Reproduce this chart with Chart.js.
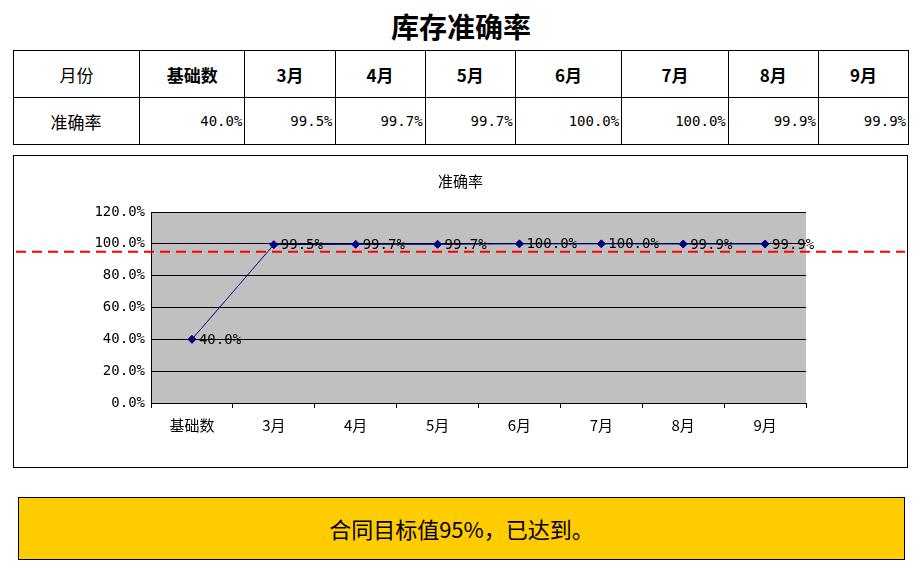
<!DOCTYPE html>
<html><head><meta charset="utf-8">
<script src="https://cdn.jsdelivr.net/npm/chart.js@4"></script>
<style>
body{margin:0;background:#fff;font-family:"Noto Sans CJK SC",sans-serif;}
#title{position:absolute;left:0;width:922px;top:6px;text-align:center;font-size:28px;font-weight:bold;}
table{position:absolute;left:13px;top:50px;width:896px;height:95px;border-collapse:collapse;font-size:17px;}
td{border:1px solid #000;text-align:center;}
tr.v td{text-align:right;font-family:"DejaVu Sans Mono",monospace;font-size:14px;padding-right:2px;}
tr.v td:first-child{text-align:center;font-family:"Noto Sans CJK SC";font-size:17px;}
tr.h td{font-weight:bold;}
tr.h td:first-child{font-weight:normal;}
#box{position:absolute;left:13px;top:155px;width:893px;height:311px;border:1px solid #000;}
#ctitle{position:absolute;left:0;width:100%;top:14px;text-align:center;font-size:15px;}
#note{position:absolute;left:18px;top:497px;width:885px;height:61px;border:1px solid #000;background:#FFCC00;text-align:center;line-height:61px;font-size:22px;}
</style></head><body>
<div id="title">库存准确率</div>
<table id="tbl"></table>
<div id="box"><div id="ctitle">准确率</div><canvas id="c" width="893" height="311"></canvas></div>
<div id="note">合同目标值95%，已达到。</div>
<script>
const categories = ['基础数','3月','4月','5月','6月','7月','8月','9月'];
const accuracy = [40.0, 99.5, 99.7, 99.7, 100.0, 100.0, 99.9, 99.9];
const target = 95;

const tbl = document.getElementById('tbl');
tbl.innerHTML = '<tr class="h"><td style="width:123px">月份</td>' + categories.map(c => '<td>' + c + '</td>').join('') + '</tr>' +
  '<tr class="v"><td>准确率</td>' + accuracy.map(v => '<td>' + v.toFixed(1) + '%</td>').join('') + '</tr>';

const bgPlugin = {
  id: 'bg',
  beforeDraw(chart) {
    const a = chart.chartArea, ctx = chart.ctx;
    ctx.fillStyle = '#C0C0C0';
    ctx.fillRect(a.left, a.top, a.right - a.left, a.bottom - a.top);
  },
  afterDatasetsDraw(chart) {
    const ctx = chart.ctx;
    const meta = chart.getDatasetMeta(0);
    ctx.font = '14px "DejaVu Sans Mono", monospace';
    ctx.fillStyle = '#000';
    ctx.textBaseline = 'middle';
    meta.data.forEach((p, i) => ctx.fillText(accuracy[i].toFixed(1) + '%', p.x + 7, p.y + 1));
    const y = chart.scales.y.getPixelForValue(target);
    ctx.save();
    ctx.strokeStyle = '#FF0000';
    ctx.lineWidth = 2;
    ctx.setLineDash([10, 6]);
    ctx.beginPath(); ctx.moveTo(2, y); ctx.lineTo(chart.width - 2, y); ctx.stroke();
    ctx.restore();
  }
};

new Chart(document.getElementById('c'), {
  type: 'line',
  data: { labels: categories, datasets: [{
    data: accuracy, borderColor: '#000080', borderWidth: 1,
    pointStyle: 'rectRot', pointRadius: 4, pointBackgroundColor: '#000080', pointBorderColor: '#000080'
  }]},
  options: {
    responsive: false, animation: false,
    layout: { padding: { left: 77, right: 101, top: 56, bottom: 22 } },
    plugins: { legend: { display: false }, tooltip: { enabled: false } },
    scales: {
      x: { offset: true,
        grid: { offset: true, drawOnChartArea: false, tickLength: 5, color: '#000' },
        border: { color: '#000' },
        ticks: { color: '#000', font: { size: 15, family: 'Noto Sans CJK SC' }, padding: 8 },
        afterFit(s) { s.height = 42; } },
      y: { min: 0, max: 120,
        grid: { color: '#000', drawTicks: false },
        border: { color: '#000' },
        ticks: { stepSize: 20, color: '#000', padding: 6,
          font: { size: 14, family: 'DejaVu Sans Mono' }, callback: v => v.toFixed(1) + '%' },
        afterFit(s) { s.width = 60; } }
    }
  },
  plugins: [bgPlugin]
});
</script>
</body></html>
